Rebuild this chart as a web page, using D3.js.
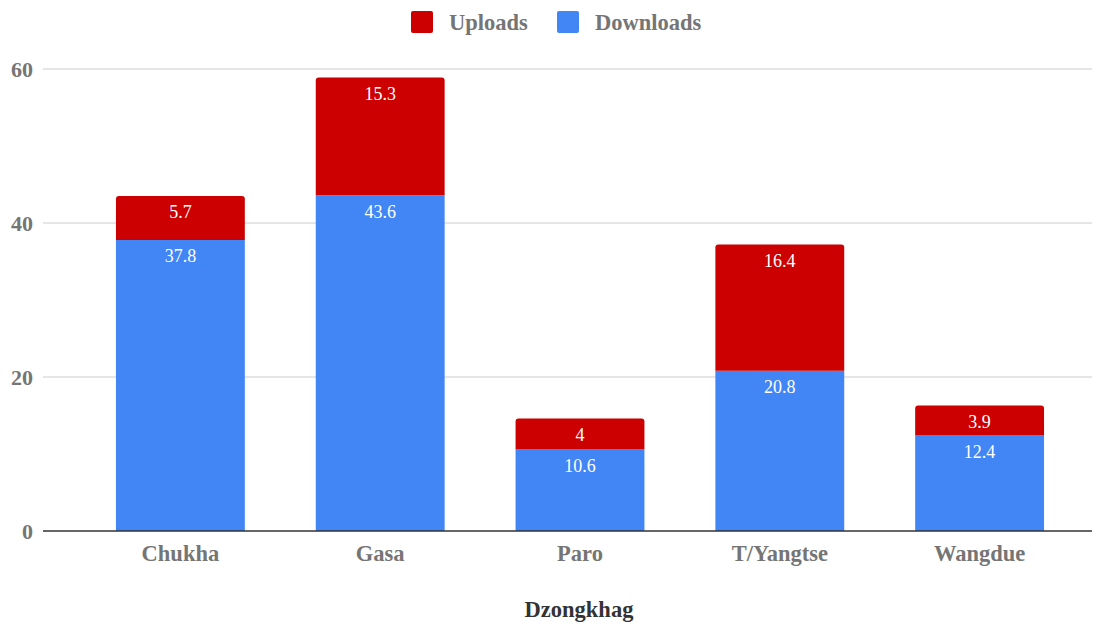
<!DOCTYPE html>
<html>
<head>
<meta charset="utf-8">
<script src="https://cdn.jsdelivr.net/npm/d3@7"></script>
<style>
  body { margin: 0; background: #fff; }
  svg text { font-family: "Liberation Serif", "Times New Roman", serif; }
</style>
</head>
<body>
<script>
// Chart values
const categories = ["Chukha", "Gasa", "Paro", "T/Yangtse", "Wangdue"];
const downloads = [37.8, 43.6, 10.6, 20.8, 12.4];
const uploads = [5.7, 15.3, 4, 16.4, 3.9];
const yTicks = [0, 20, 40, 60];
const seriesNames = ["Downloads", "Uploads"];
const colors = { Downloads: "#4285f4", Uploads: "#cc0000" };

const width = 1103;
const height = 623;

const svg = d3.select("body").append("svg")
    .attr("width", width)
    .attr("height", height);

// rows for the stack
const rows = categories.map((c, i) => ({ cat: c, Downloads: downloads[i], Uploads: uploads[i] }));
const stacked = d3.stack().keys(seriesNames)(rows);

const x = d3.scaleBand()
    .domain(categories)
    .range([80, 1080])
    .paddingInner(0.355)
    .paddingOuter(0.18);

const y = d3.scaleLinear()
    .domain([0, 60])
    .range([531, 69]);

// gridlines
svg.append("g")
    .selectAll("line")
    .data(yTicks.filter(d => d > 0))
    .enter().append("line")
        .attr("x1", 43)
        .attr("x2", 1092)
        .attr("y1", d => y(d))
        .attr("y2", d => y(d))
        .attr("stroke", "#cccccc")
        .attr("stroke-width", 1);

// y tick labels
svg.append("g")
    .selectAll("text")
    .data(yTicks)
    .enter().append("text")
        .attr("x", 33)
        .attr("y", d => y(d))
        .attr("dy", "0.35em")
        .attr("text-anchor", "end")
        .attr("font-size", 22)
        .attr("font-weight", "bold")
        .attr("fill", "#757575")
        .text(d => d);

// bar path with rounded top corners
function barPath(x0, y0, w, h, r, roundTop) {
    if (!roundTop) return `M${x0},${y0}h${w}v${h}h${-w}Z`;
    return `M${x0},${y0 + h}V${y0 + r}Q${x0},${y0} ${x0 + r},${y0}H${x0 + w - r}Q${x0 + w},${y0} ${x0 + w},${y0 + r}V${y0 + h}Z`;
}

stacked.forEach(layer => {
    const key = layer.key;
    const top = key === "Uploads";
    svg.append("g")
        .selectAll("path")
        .data(layer)
        .enter().append("path")
            .attr("fill", colors[key])
            .attr("d", d => barPath(x(d.data.cat), y(d[1]), x.bandwidth(), y(d[0]) - y(d[1]), 3, top));

    svg.append("g")
        .selectAll("text")
        .data(layer)
        .enter().append("text")
            .attr("x", d => x(d.data.cat) + x.bandwidth() / 2)
            .attr("y", d => y(d[1]) + 16)
            .attr("dy", "0.35em")
            .attr("text-anchor", "middle")
            .attr("font-size", 18)
            .attr("fill", "#ffffff")
            .text(d => d.data[key]);
});

// baseline
svg.append("line")
    .attr("x1", 43)
    .attr("x2", 1092)
    .attr("y1", y(0))
    .attr("y2", y(0))
    .attr("stroke", "#333333")
    .attr("stroke-width", 1.5);

// x axis labels
svg.append("g")
    .selectAll("text")
    .data(categories)
    .enter().append("text")
        .attr("x", d => x(d) + x.bandwidth() / 2)
        .attr("y", 553)
        .attr("dy", "0.35em")
        .attr("text-anchor", "middle")
        .attr("font-size", 22.5)
        .attr("font-weight", "bold")
        .attr("fill", "#757575")
        .text(d => d);

// axis title
svg.append("text")
    .attr("x", 579)
    .attr("y", 609)
    .attr("dy", "0.35em")
    .attr("text-anchor", "middle")
    .attr("font-size", 22.5)
    .attr("font-weight", "bold")
    .attr("fill", "#333333")
    .text("Dzongkhag");

// legend
const legendItems = [
    { name: "Uploads", x: 411 },
    { name: "Downloads", x: 557 }
];
const lg = svg.append("g")
    .selectAll("g")
    .data(legendItems)
    .enter().append("g")
        .attr("transform", d => `translate(${d.x},11)`);
lg.append("rect")
    .attr("width", 22)
    .attr("height", 22)
    .attr("rx", 2)
    .attr("fill", d => colors[d.name]);
lg.append("text")
    .attr("x", 38)
    .attr("y", 11)
    .attr("dy", "0.35em")
    .attr("font-size", 22.5)
    .attr("font-weight", "bold")
    .attr("fill", "#757575")
    .text(d => d.name);
</script>
</body>
</html>
